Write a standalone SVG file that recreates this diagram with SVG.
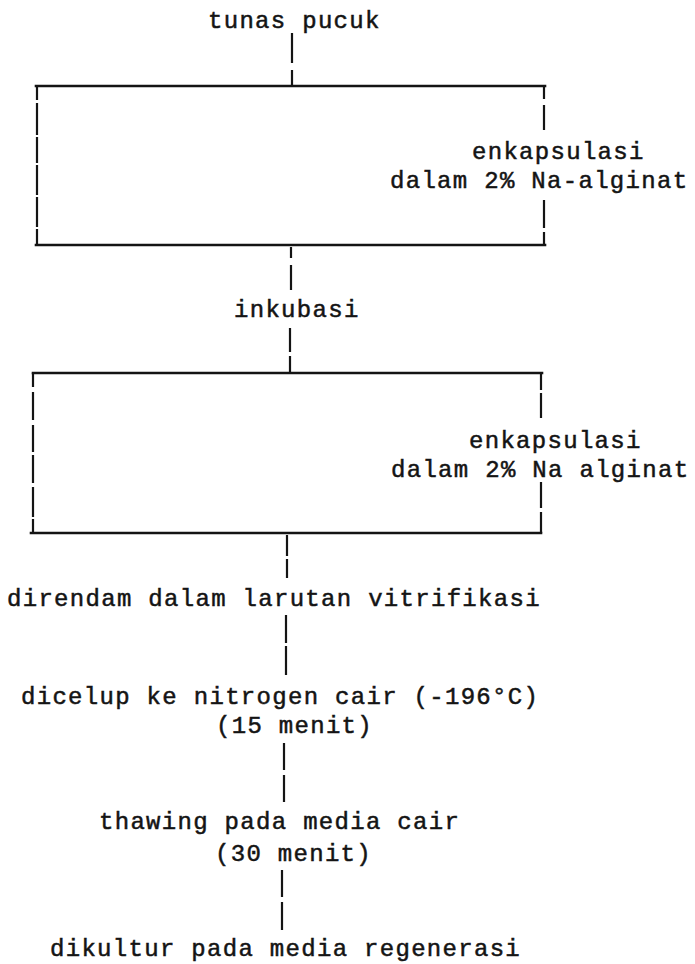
<svg xmlns="http://www.w3.org/2000/svg" width="695" height="964" viewBox="0 0 695 964">
<style>
text{font-family:"Liberation Mono","Courier New",monospace;font-size:24px;letter-spacing:1.3px;fill:#141414;stroke:#141414;stroke-width:0.5px;}
.h{stroke:#141414;stroke-width:2.6;fill:none;stroke-linecap:square;}
.v{stroke:#141414;stroke-width:2.2;fill:none;stroke-linecap:butt;}
</style>
<rect width="695" height="964" fill="#ffffff"/>
<g id="n-tunas"><text x="208" y="28">tunas pucuk</text></g>
<g id="n-box1">
<path class="h" d="M36 86H545M36 245H545"/>
<path class="v" d="M37 86V100M37 103V135M37 137V163M37 165V195M37 197V227M37 229V245M544 86V99M544 105V130M544 200V228M544 232V245"/>
<text x="472" y="159">enkapsulasi</text>
<text x="390" y="188">dalam 2% Na-alginat</text>
</g>
<g id="n-inkubasi"><text x="234" y="317">inkubasi</text></g>
<g id="n-box2">
<path class="h" d="M33 373H542M31 533H541"/>
<path class="v" d="M33 373V387M33 392V420M33 425V452M33 455V483M33 487V517M33 519V533M541 373V390M541 393V418M541 482V508M541 512V533"/>
<text x="469" y="448">enkapsulasi</text>
<text x="391" y="477">dalam 2% Na alginat</text>
</g>
<g id="n-direndam"><text x="7" y="606">direndam dalam larutan vitrifikasi</text></g>
<g id="n-dicelup"><text x="21" y="704">dicelup ke nitrogen cair (-196°C)</text><text x="216" y="733">(15 menit)</text></g>
<g id="n-thawing"><text x="99" y="829">thawing pada media cair</text><text x="215" y="861">(30 menit)</text></g>
<g id="n-dikultur"><text x="50" y="956">dikultur pada media regenerasi</text></g>
<g id="connectors">
<path class="v" d="M292 33V63M292 70V86M291 247V258M291 265V290M290 328V352M290 356V373M287 535V556M287 559V578M286 615V643M286 646V675M284 743V770M284 775V802M282 870V897M282 902V930"/>
</g>
</svg>
